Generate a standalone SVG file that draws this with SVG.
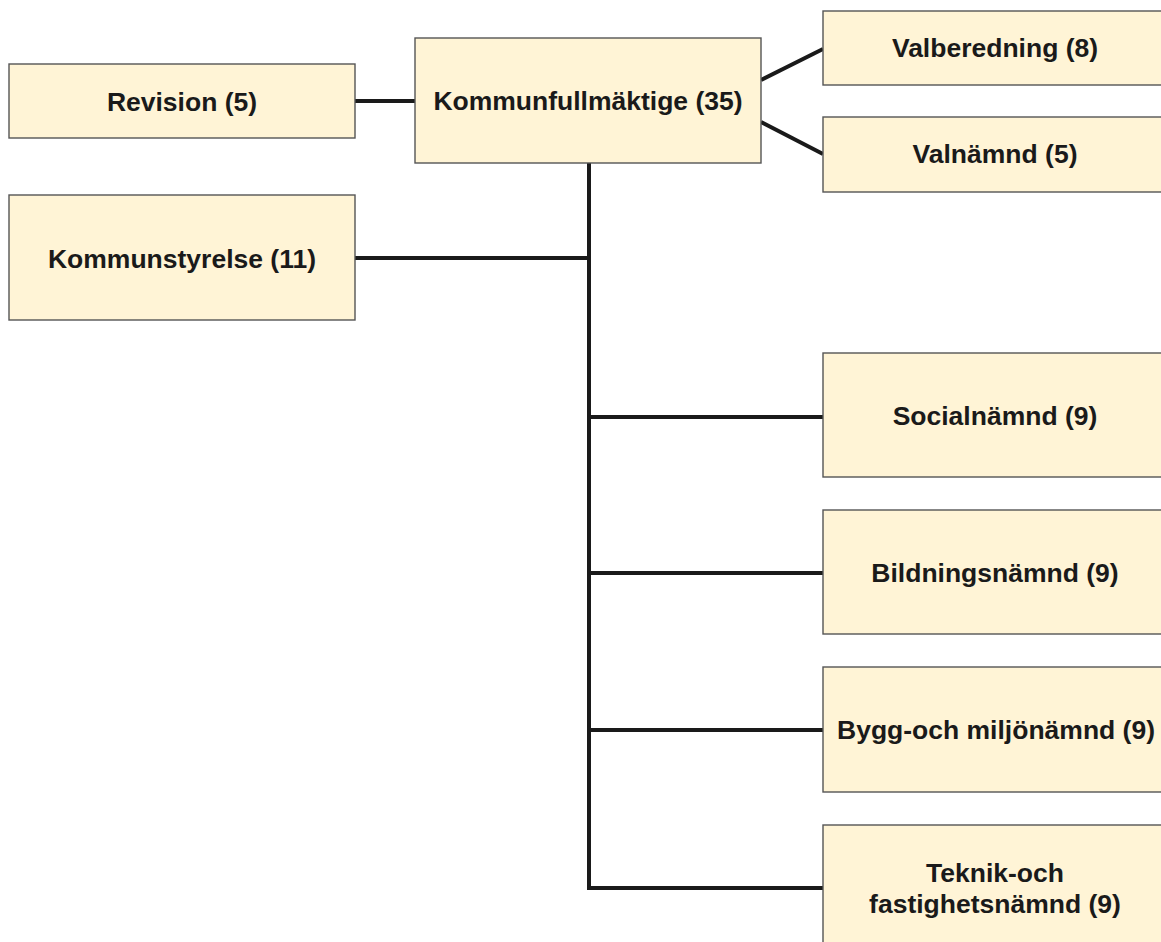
<svg xmlns="http://www.w3.org/2000/svg" width="1161" height="942" viewBox="0 0 1161 942">
<style>
.box{fill:#FFF4D6;stroke:#555;stroke-width:1.4}
.t{font-family:"Liberation Sans",Arial,sans-serif;font-weight:bold;font-size:26.5px;fill:#1a1a1a;text-anchor:middle}
.c{stroke:#1a1a1a;stroke-width:4;fill:none}
</style>
<rect width="1161" height="942" fill="#fff"/>
<g id="connectors">
<line class="c" x1="355" y1="101" x2="415" y2="101"/>
<line class="c" x1="761" y1="80" x2="823" y2="49"/>
<line class="c" x1="761" y1="122" x2="823" y2="154"/>
<line class="c" x1="589" y1="163" x2="589" y2="890"/>
<line class="c" x1="355" y1="258" x2="589" y2="258"/>
<line class="c" x1="589" y1="417" x2="823" y2="417"/>
<line class="c" x1="589" y1="573" x2="823" y2="573"/>
<line class="c" x1="589" y1="730" x2="823" y2="730"/>
<line class="c" x1="587" y1="888" x2="823" y2="888"/>
</g>
<g id="revision"><rect class="box" x="9" y="64" width="346" height="74"/><text class="t" x="182" y="111">Revision (5)</text></g>
<g id="kommunfullmaktige"><rect class="box" x="415" y="38" width="346" height="125"/><text class="t" x="588" y="110">Kommunfullmäktige (35)</text></g>
<g id="valberedning"><rect class="box" x="823" y="11" width="344" height="74"/><text class="t" x="995" y="57">Valberedning (8)</text></g>
<g id="valnamnd"><rect class="box" x="823" y="117" width="344" height="75"/><text class="t" x="995" y="163">Valnämnd (5)</text></g>
<g id="kommunstyrelse"><rect class="box" x="9" y="195" width="346" height="125"/><text class="t" x="182" y="268">Kommunstyrelse (11)</text></g>
<g id="socialnamnd"><rect class="box" x="823" y="353" width="344" height="124"/><text class="t" x="995" y="425">Socialnämnd (9)</text></g>
<g id="bildningsnamnd"><rect class="box" x="823" y="510" width="344" height="124"/><text class="t" x="995" y="582">Bildningsnämnd (9)</text></g>
<g id="byggmiljonamnd"><rect class="box" x="823" y="667" width="344" height="125"/><text class="t" x="996" y="739">Bygg-och miljönämnd (9)</text></g>
<g id="teknikfastighetsnamnd"><rect class="box" x="823" y="825" width="344" height="125"/><text class="t" x="995" y="882">Teknik-och</text><text class="t" x="995" y="913">fastighetsnämnd (9)</text></g>
</svg>
